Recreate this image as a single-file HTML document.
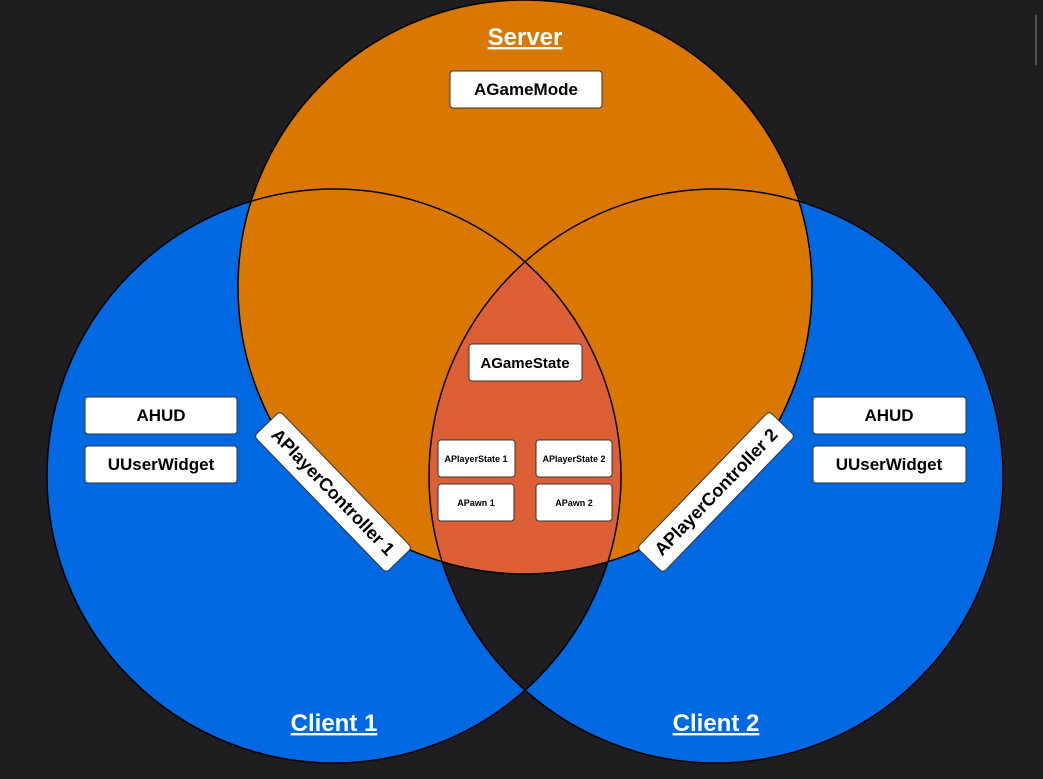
<!DOCTYPE html>
<html><head><meta charset="utf-8"><style>
html,body{margin:0;padding:0;background:#1e1e20;}
svg{display:block;font-family:"Liberation Sans",sans-serif;font-weight:bold;}
</style></head><body>
<svg width="1043" height="779" viewBox="0 0 1043 779" xmlns="http://www.w3.org/2000/svg">
<defs>
<clipPath id="c1"><circle cx="334" cy="476" r="287"/></clipPath>
<clipPath id="c2"><circle cx="716" cy="476" r="287"/></clipPath>
<clipPath id="s"><circle cx="525" cy="287" r="287"/></clipPath>
</defs>
<rect width="1043" height="779" fill="#1e1e20"/>
<rect x="1035" y="15" width="2" height="50" fill="#555"/>
<circle cx="334" cy="476" r="287" fill="#0068e0"/>
<circle cx="716" cy="476" r="287" fill="#0068e0"/>
<g clip-path="url(#c1)"><circle cx="716" cy="476" r="287" fill="#1e1e20"/></g>
<circle cx="525" cy="287" r="287" fill="#d97700"/>
<g clip-path="url(#c1)"><g clip-path="url(#c2)"><circle cx="525" cy="287" r="287" fill="#dc5f35"/></g></g>
<g fill="none" stroke="#000" stroke-width="1.5">
<circle cx="334" cy="476" r="287"/>
<circle cx="716" cy="476" r="287"/>
<circle cx="525" cy="287" r="287"/>
</g>
<g fill="#fff" text-decoration="underline" font-size="24" text-anchor="middle">
<text x="525" y="45">Server</text>
<text x="334" y="731">Client 1</text>
<text x="716" y="731">Client 2</text>
</g>
<g fill="#fff" stroke="#333" stroke-width="1">
<rect x="450" y="71" width="152" height="37" rx="3"/>
<rect x="85" y="397" width="152" height="37" rx="3"/>
<rect x="85" y="446" width="152" height="37" rx="3"/>
<rect x="813" y="397" width="153" height="37" rx="3"/>
<rect x="813" y="446" width="153" height="37" rx="3"/>
<rect x="469" y="344" width="113" height="37" rx="3"/>
<rect x="438" y="440" width="77" height="37" rx="3"/>
<rect x="536" y="440" width="76" height="37" rx="3"/>
<rect x="438" y="484" width="76" height="37" rx="3"/>
<rect x="536" y="484" width="76" height="37" rx="3"/>
</g>
<g fill="#000" text-anchor="middle" font-size="17">
<text x="526" y="95">AGameMode</text>
<text x="161" y="421">AHUD</text>
<text x="161" y="470">UUserWidget</text>
<text x="889" y="421">AHUD</text>
<text x="889" y="470">UUserWidget</text>
<text x="525" y="368" font-size="15">AGameState</text>
<text x="476" y="462" font-size="9">APlayerState 1</text>
<text x="574" y="462" font-size="9">APlayerState 2</text>
<text x="476" y="506" font-size="9">APawn 1</text>
<text x="574" y="506" font-size="9">APawn 2</text>
</g>
<g transform="translate(333,492) rotate(46)">
<rect x="-95" y="-18" width="190" height="36" rx="4" fill="#fff" stroke="#333"/>
<text x="0" y="6" text-anchor="middle" font-size="18" fill="#000">APlayerController 1</text>
</g>
<g transform="translate(716,492) rotate(-46)">
<rect x="-95" y="-18" width="190" height="36" rx="4" fill="#fff" stroke="#333"/>
<text x="0" y="6" text-anchor="middle" font-size="18" fill="#000">APlayerController 2</text>
</g>
</svg>
</body></html>
